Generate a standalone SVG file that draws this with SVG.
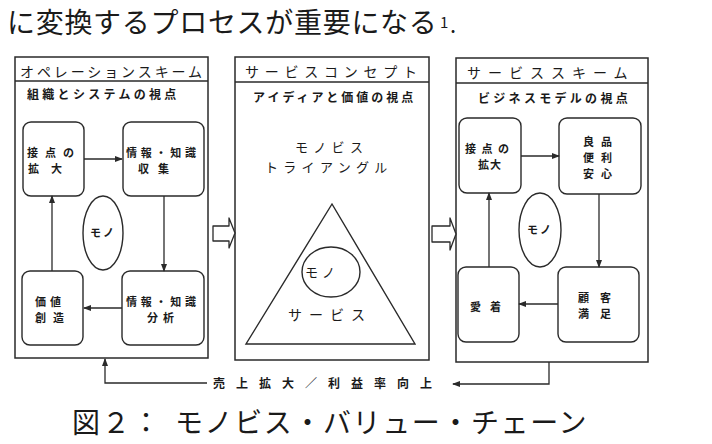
<svg xmlns="http://www.w3.org/2000/svg" width="712" height="444" viewBox="0 0 712 444">
<defs>
<style>
text{font-family:"Noto Sans CJK JP","Noto Sans CJK SC",sans-serif;fill:#1a1a1a}
.big{font-size:28px}
.ttl{font-size:14px}
.sub{font-size:12px;font-weight:bold}
.lbl{font-size:11px;font-weight:bold}
.mid{font-size:13px}
.panel{fill:#fff;stroke:#2a2a2a;stroke-width:1.5}
.box{fill:#fff;stroke:#2a2a2a;stroke-width:1.4}
.conn{fill:none;stroke:#2a2a2a;stroke-width:1.3}
.blk{fill:#fff;stroke:#2a2a2a;stroke-width:1.3;stroke-linejoin:round}
</style>
<marker id="ah" markerWidth="8" markerHeight="6" refX="7" refY="3" orient="auto" markerUnits="userSpaceOnUse">
<path d="M0,0 L8,3 L0,6 Z" fill="#2a2a2a"/>
</marker>
</defs>
<rect width="712" height="444" fill="#fff"/>

<g id="header">
<text class="big" x="7" y="33" letter-spacing="0.7">に変換するプロセスが重要になる</text>
<text x="440" y="28" font-size="15">1</text>
<text x="450" y="33" font-size="22">.</text>
</g>

<g id="panel-operation">
<rect class="panel" x="15" y="57" width="193" height="301"/>
<line class="panel" x1="15" y1="81" x2="208" y2="81"/>
<text class="ttl" x="20" y="77" letter-spacing="2.9">オペレーションスキーム</text>
<text class="sub" x="27" y="98.6" letter-spacing="3.3">組織とシステムの視点</text>
</g>
<g id="op-contact">
<rect class="box" x="23" y="122" width="61" height="74" rx="8"/>
<text class="lbl" x="27" y="156.7" letter-spacing="7">接点の</text>
<text class="lbl" x="28" y="172.7" letter-spacing="12">拡大</text>
</g>
<g id="op-collect">
<rect class="box" x="123" y="122" width="81" height="74" rx="8"/>
<text class="lbl" x="126" y="156.7" letter-spacing="3.75">情報・知識</text>
<text class="lbl" x="138" y="172.7" letter-spacing="9">収集</text>
</g>
<g id="op-value">
<rect class="box" x="22" y="271" width="61" height="74" rx="8"/>
<text class="lbl" x="35" y="305.7" letter-spacing="4">価値</text>
<text class="lbl" x="35" y="321.7" letter-spacing="7">創造</text>
</g>
<g id="op-analyze">
<rect class="box" x="122" y="271" width="82" height="74" rx="8"/>
<text class="lbl" x="126" y="305.7" letter-spacing="3.75">情報・知識</text>
<text class="lbl" x="147" y="321.7" letter-spacing="5">分析</text>
</g>
<g id="op-mono">
<ellipse class="box" cx="103" cy="233" rx="20" ry="37"/>
<text class="lbl" x="90" y="237.2" letter-spacing="2">モノ</text>
</g>

<g id="panel-concept">
<rect class="panel" x="235" y="57" width="194" height="303"/>
<line class="panel" x1="235" y1="82" x2="429" y2="82"/>
<text class="ttl" x="245" y="77" letter-spacing="5.75">サービスコンセプト</text>
<text class="sub" x="253" y="101.6" letter-spacing="3">アイディアと価値の視点</text>
<text class="mid" x="295" y="152" letter-spacing="5.3">モノビス</text>
<text class="mid" x="265" y="172" letter-spacing="5.3">トライアングル</text>
</g>
<g id="triangle">
<polygon class="box" points="332,204 415,344 246,344"/>
<text class="ttl" x="288" y="320" letter-spacing="7">サービス</text>
</g>
<g id="tri-mono">
<ellipse class="box" cx="331" cy="272" rx="29" ry="25"/>
<text class="mid" x="305" y="277" letter-spacing="4">モノ</text>
</g>

<g id="panel-service">
<rect class="panel" x="456" y="58" width="192" height="304"/>
<line class="panel" x1="456" y1="83" x2="648" y2="83"/>
<text class="ttl" x="467" y="78" letter-spacing="7">サービススキーム</text>
<text class="sub" x="478" y="102.6" letter-spacing="3.3">ビジネスモデルの視点</text>
</g>
<g id="sv-contact">
<rect class="box" x="459" y="118" width="62" height="75" rx="8"/>
<text class="lbl" x="465" y="153.2" letter-spacing="5.5">接点の</text>
<text class="lbl" x="478" y="169.2" letter-spacing="1">拡大</text>
</g>
<g id="sv-quality">
<rect class="box" x="559" y="118" width="82" height="76" rx="8"/>
<text class="lbl" x="583" y="145.7" letter-spacing="7">良品</text>
<text class="lbl" x="583" y="161.7" letter-spacing="7">便利</text>
<text class="lbl" x="583" y="177.7" letter-spacing="7">安心</text>
</g>
<g id="sv-attach">
<rect class="box" x="458" y="267" width="61" height="75" rx="8"/>
<text class="lbl" x="470" y="311.2" letter-spacing="9">愛着</text>
</g>
<g id="sv-satisfy">
<rect class="box" x="558" y="267" width="81" height="75" rx="8"/>
<text class="lbl" x="578" y="301.7" letter-spacing="11">顧客</text>
<text class="lbl" x="578" y="317.7" letter-spacing="11">満足</text>
</g>
<g id="sv-mono">
<ellipse class="box" cx="540" cy="230" rx="21" ry="37"/>
<text class="lbl" x="527" y="234.2" letter-spacing="2">モノ</text>
</g>

<g id="connectors">
<line class="conn" x1="84" y1="159" x2="122" y2="159" marker-end="url(#ah)"/>
<line class="conn" x1="164" y1="196" x2="164" y2="271" marker-end="url(#ah)"/>
<line class="conn" x1="122" y1="308" x2="84" y2="308" marker-end="url(#ah)"/>
<line class="conn" x1="52" y1="271" x2="52" y2="196" marker-end="url(#ah)"/>
<line class="conn" x1="521" y1="156" x2="559" y2="156" marker-end="url(#ah)"/>
<line class="conn" x1="599" y1="194" x2="599" y2="267" marker-end="url(#ah)"/>
<line class="conn" x1="558" y1="304" x2="519" y2="304" marker-end="url(#ah)"/>
<line class="conn" x1="489" y1="267" x2="489" y2="193" marker-end="url(#ah)"/>
<path class="conn" d="M207,383 H105 V359" marker-end="url(#ah)" stroke-width="1.8"/>
<path class="conn" d="M549,362 V384 H453" marker-end="url(#ah)" stroke-width="1.8"/>
<path class="blk" d="M213,226 H229 V218 L235,233 L229,248 V241 H213 Z"/>
<path class="blk" d="M432,226 H450 V218 L456,234 L450,250 V242 H432 Z"/>
</g>

<g id="feedback-label">
<text class="sub" x="213" y="387.6" letter-spacing="11">売上拡大／利益率向上</text>
</g>

<g id="caption">
<text class="big" x="72" y="433" letter-spacing="2">図２：</text>
<text class="big" x="175" y="433" letter-spacing="1.6">モノビス・バリュー・チェーン</text>
</g>
</svg>
